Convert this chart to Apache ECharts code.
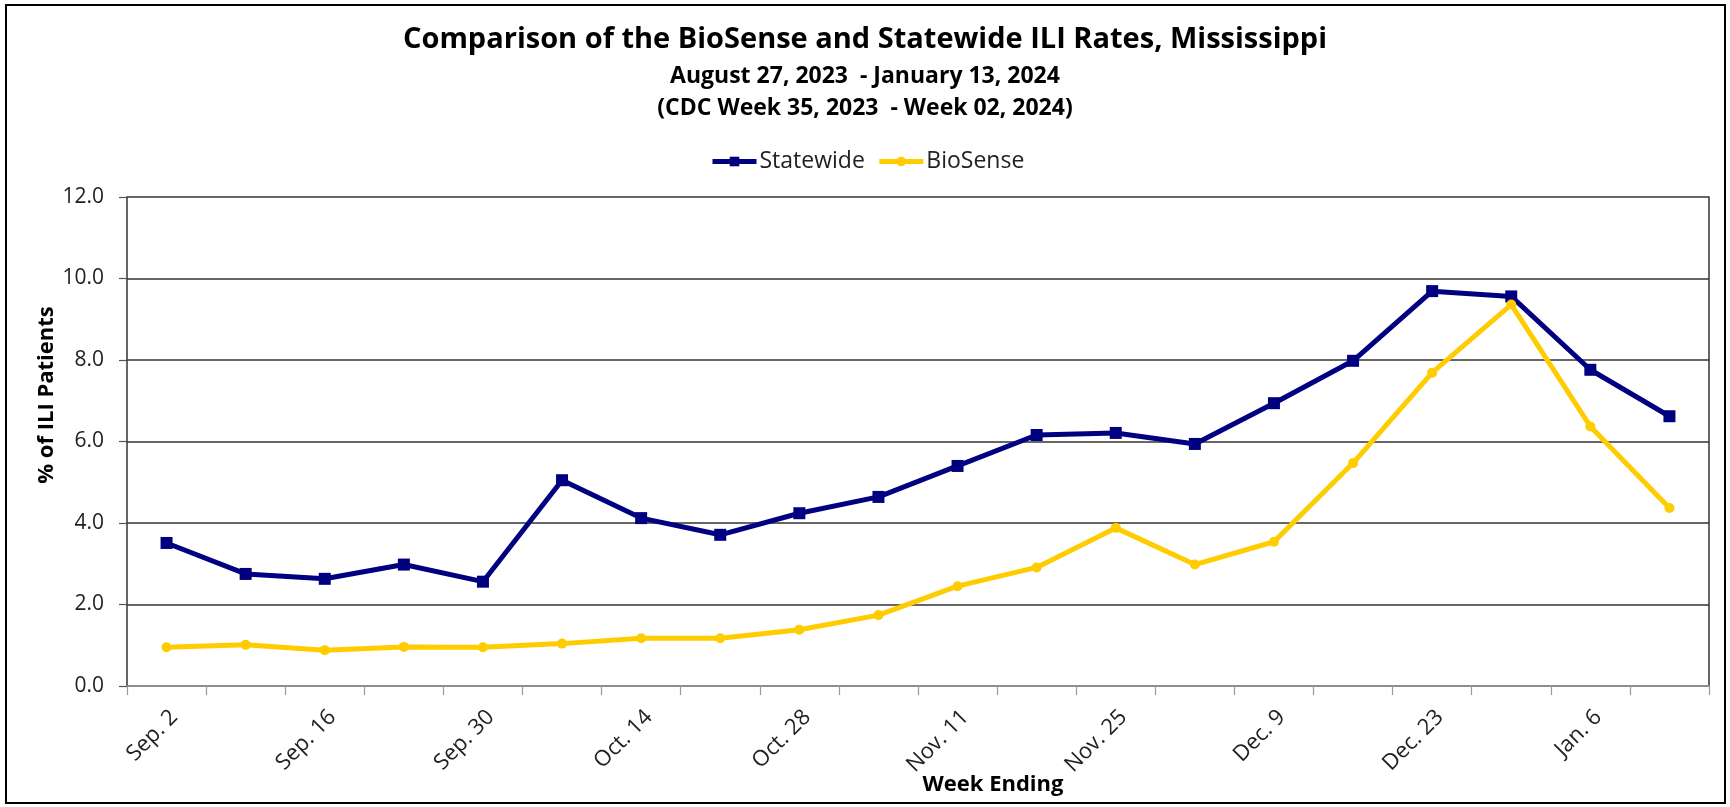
<!DOCTYPE html>
<html>
<head>
<meta charset="utf-8">
<script src="https://cdn.jsdelivr.net/npm/echarts@6/dist/echarts.min.js"></script>
<style>
html,body{margin:0;padding:0;background:#fff;}
#chart{width:1730px;height:807px;}
</style>
</head>
<body>
<div id="chart"></div>
<script>
const weeks = ['Sep. 2','Sep. 9','Sep. 16','Sep. 23','Sep. 30','Oct. 7','Oct. 14','Oct. 21','Oct. 28','Nov. 4','Nov. 11','Nov. 18','Nov. 25','Dec. 2','Dec. 9','Dec. 16','Dec. 23','Dec. 30','Jan. 6','Jan. 13'];
const statewide = [3.51,2.75,2.63,2.98,2.56,5.05,4.12,3.71,4.24,4.64,5.40,6.16,6.21,5.94,6.94,7.98,9.69,9.56,7.76,6.62];
const biosense = [0.95,1.01,0.88,0.96,0.95,1.04,1.17,1.17,1.38,1.74,2.45,2.91,3.88,2.98,3.54,5.47,7.69,9.36,6.37,4.37];

const FONT = '"Open Sans", "Noto Sans", sans-serif';
const chart = echarts.init(document.getElementById('chart'), null, {renderer:'canvas'});
chart.setOption({
  backgroundColor:'#fff',
  animation:false,
  textStyle:{fontFamily:FONT},
  title:[
    {text:'Comparison of the BioSense and Statewide ILI Rates, Mississippi', left:'center', top:20,
     textStyle:{fontFamily:FONT, fontSize:29, fontWeight:'bold', color:'#000'}},
    {text:'August 27, 2023  - January 13, 2024', left:'center', top:60,
     textStyle:{fontFamily:FONT, fontSize:23, fontWeight:'bold', color:'#000'}},
    {text:'(CDC Week 35, 2023  - Week 02, 2024)', left:'center', top:92,
     textStyle:{fontFamily:FONT, fontSize:23, fontWeight:'bold', color:'#000'}}
  ],
  legend:{
    top:145, left:705, itemWidth:44, itemHeight:12, itemGap:12,
    textStyle:{fontFamily:FONT, fontSize:23, color:'#222', padding:[0,0,0,-2]},
    lineStyle:{width:5},
    data:['Statewide','BioSense']
  },
  grid:{left:127, right:21, top:197, bottom:121, containLabel:false},
  xAxis:{
    type:'category', data:weeks, boundaryGap:true,
    axisLine:{show:true, lineStyle:{color:'#9a9a9a', width:1.5}},
    axisTick:{show:true, interval:0, length:9, lineStyle:{color:'#9a9a9a', width:1.2}},
    axisLabel:{interval:1, rotate:45, fontSize:22, color:'#222', fontFamily:FONT, margin:20, verticalAlign:'top'},
    splitLine:{show:false}
  },
  yAxis:[{
    type:'value', min:0, max:12, interval:2,
    axisLine:{show:true, lineStyle:{color:'#333', width:1.5}},
    axisTick:{show:true, length:8, lineStyle:{color:'#555', width:1.2}},
    axisLabel:{fontSize:21, color:'#222', fontFamily:FONT, margin:23, formatter:v=>v.toFixed(1)},
    splitLine:{show:true, lineStyle:{color:'#333', width:1.5}}
  },{
    type:'value', min:0, max:12, interval:2, position:'right',
    axisLine:{show:true, lineStyle:{color:'#333', width:1.5}},
    axisTick:{show:false}, axisLabel:{show:false}, splitLine:{show:false}
  }],
  graphic:[
    {type:'rect', shape:{x:6, y:5, width:1719, height:798}, style:{fill:'none', stroke:'#000', lineWidth:2}, silent:true, z:-1},
    {type:'text', x:993, y:785, style:{text:'Week Ending', fontFamily:FONT, fontSize:22, fontWeight:'bold', fill:'#000', align:'center', verticalAlign:'middle'}},
    {type:'text', x:47, y:395, rotation:Math.PI/2, style:{text:'% of ILI Patients', fontFamily:FONT, fontSize:22, fontWeight:'bold', fill:'#000', align:'center', verticalAlign:'middle'}}
  ],
  series:[
    {name:'Statewide', type:'line', data:statewide, symbol:'rect', symbolSize:12,
     lineStyle:{color:'#000080', width:5}, itemStyle:{color:'#000080'}, z:3},
    {name:'BioSense', type:'line', data:biosense, symbol:'circle', symbolSize:10,
     lineStyle:{color:'#FFCC00', width:5}, itemStyle:{color:'#FFCC00'}, z:4}
  ]
});
</script>
</body>
</html>
